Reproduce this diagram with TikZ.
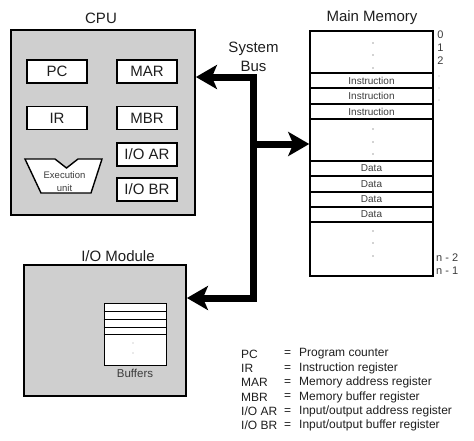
\documentclass[tikz,border=0pt]{standalone}
\usepackage{fontspec}
\setmainfont{Liberation Sans}
\usetikzlibrary{arrows.meta}
\definecolor{boxgray}{RGB}{207,207,207}
\definecolor{txt}{RGB}{30,30,30}
\definecolor{celltxt}{RGB}{60,60,60}
\begin{document}
\begin{tikzpicture}[x=1pt,y=-1pt,
  titlefont/.style={font=\fontsize{15}{17}\selectfont, text=txt},
  module/.style={draw, line width=1.8pt, fill=boxgray, inner sep=0pt},
  reg/.style={draw, line width=1.1pt, fill=white, minimum width=60pt, minimum height=23pt, inner sep=0pt, font=\fontsize{15}{17}\selectfont, text=txt},
  cell/.style={font=\fontsize{10}{12}\selectfont, text=celltxt, inner sep=0pt},
  idx/.style={font=\fontsize{11}{13}\selectfont, text=celltxt, inner sep=0pt},
  legend/.style={font=\fontsize{12}{14}\selectfont, text=txt, inner sep=0pt, anchor=west},
  bus/.style={line width=7pt, line join=miter, line cap=butt},
  bustip/.tip={Stealth[length=21pt, width=24pt, inset=5pt]},
  dot/.style={fill=gray!70},
]
\useasboundingbox (0,0) rectangle (474,440);

% CPU
\node[module, minimum width=184pt, minimum height=185pt] (cpu) at (103,122.5) {};
\node[titlefont] (cputitle) at (101,18) {CPU};
\node[reg] (pc) at (57,71.5) {PC};
\node[reg] (mar) at (147,71.5) {MAR};
\node[reg] (ir) at (57,118) {IR};
\node[reg] (mbr) at (147,118) {MBR};
\node[reg] (ioar) at (147,154.5) {I/O AR};
\node[reg] (iobr) at (147,189.5) {I/O BR};
\draw[line width=1.4pt, fill=white, line join=miter] (25,159) -- (55,159) -- (66.5,168) -- (78,159) -- (102,159) -- (91,193) -- (41,193) -- cycle;
\node[cell, align=center, font=\fontsize{9.5}{12.5}\selectfont] (exec) at (64.5,181.5) {Execution\\unit};

% Main memory
\node[draw, line width=1.5pt, fill=white, minimum width=123pt, minimum height=245pt, inner sep=0pt] (mem) at (371.5,153.5) {};
\node[titlefont] (memtitle) at (372,17.5) {Main Memory};
\foreach \y in {73,88,104,119,161,176,192,207,222}
  \draw[line width=1.4pt] (mem.west |- 0,\y) -- (mem.east |- 0,\y);
\node[cell] (i1) at (371.5,80.5) {Instruction};
\node[cell] (i2) at (371.5,96) {Instruction};
\node[cell] (i3) at (371.5,111.5) {Instruction};
\node[cell] (d1) at (371.5,168.5) {Data};
\node[cell] (d2) at (371.5,184) {Data};
\node[cell] (d3) at (371.5,199.5) {Data};
\node[cell] (d4) at (371.5,214.5) {Data};
\foreach \y in {43,55,68,129,142,154,231,243,256}
  \fill[dot] (373,\y) circle (0.8);
\node[idx] (a0) at (440.5,35) {0};
\node[idx] (a1) at (440.5,48) {1};
\node[idx] (a2) at (440.5,61) {2};
\foreach \y in {76,88,100}
  \fill[dot] (439,\y) circle (0.7);
\node[idx, anchor=west] (an2) at (436,258) {n - 2};
\node[idx, anchor=west] (an1) at (436,271) {n - 1};

% I/O module
\node[module, minimum width=162pt, minimum height=131pt] (io) at (105,330.5) {};
\node[titlefont] (iotitle) at (118,256) {I/O Module};
\node[draw, line width=1pt, fill=white, minimum width=62pt, minimum height=62pt, inner sep=0pt] (buf) at (135,334) {};
\foreach \y in {311,319,327,334}
  \draw[line width=1pt] (buf.west |- 0,\y) -- (buf.east |- 0,\y);
\fill[dot] (133,343) circle (0.7);
\fill[dot] (133,353) circle (0.7);
\node[cell, font=\fontsize{11.5}{13}\selectfont] (buftxt) at (135,373) {Buffers};

% System bus
\node[titlefont, align=center, font=\fontsize{15}{19}\selectfont] (bustitle) at (253.5,56.5) {System\\Bus};
\coordinate (bt) at (253.5,77);
\coordinate (bm) at (253.5,144);
\coordinate (bb) at (253.5,298);
\draw[bus, bustip-bustip] (bt -| cpu.east) -- (bt) -- (bb) -- (bb -| io.east);
\draw[bus, -bustip] (bm) -- (bm -| mem.west);

% Legend
\node[legend] (lab1) at (241,354) {PC};
\node[legend] (eq1) at (284,354) {=};
\node[legend] (def1) at (299,354) {Program counter};
\node[legend] (lab2) at (241,368.3) {IR};
\node[legend] (eq2) at (284,368.3) {=};
\node[legend] (def2) at (299,368.3) {Instruction register};
\node[legend] (lab3) at (241,382.6) {MAR};
\node[legend] (eq3) at (284,382.6) {=};
\node[legend] (def3) at (299,382.6) {Memory address register};
\node[legend] (lab4) at (241,396.9) {MBR};
\node[legend] (eq4) at (284,396.9) {=};
\node[legend] (def4) at (299,396.9) {Memory buffer register};
\node[legend] (lab5) at (241,411.2) {I/O AR};
\node[legend] (eq5) at (284,411.2) {=};
\node[legend] (def5) at (299,411.2) {Input/output address register};
\node[legend] (lab6) at (241,425.5) {I/O BR};
\node[legend] (eq6) at (284,425.5) {=};
\node[legend] (def6) at (299,425.5) {Input/output buffer register};
\end{tikzpicture}
\end{document}
